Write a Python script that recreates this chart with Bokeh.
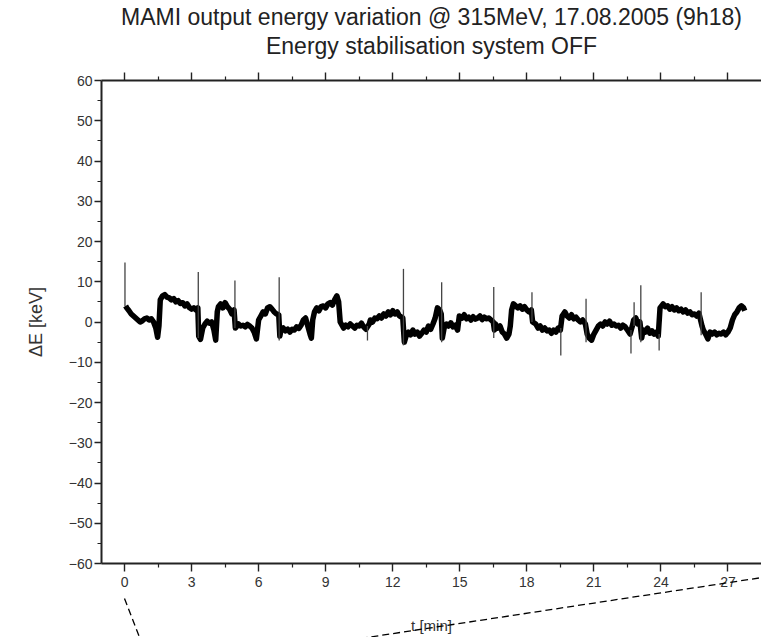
from bokeh.plotting import figure
from bokeh.models import (Range1d, LinearAxis, FixedTicker, Title,
                          ColumnDataSource, CustomJSTickFormatter)
from bokeh.embed import file_html
from bokeh.resources import INLINE

# ---- data ----
t_min = [
    0.05, 0.1, 0.2, 0.3, 0.4, 0.5, 0.6, 0.7, 0.8, 0.9, 1.0, 1.1, 1.2, 1.3, 1.4, 1.48, 1.54,
    1.6, 1.7, 1.8, 1.9, 2.0, 2.1, 2.2, 2.3, 2.4, 2.5, 2.6, 2.7, 2.8, 2.9, 3.0, 3.1, 3.2, 3.28,
    3.32, 3.4, 3.5, 3.6, 3.7, 3.8, 3.9, 4.0, 4.08,
    4.15, 4.2, 4.3, 4.4, 4.5, 4.6, 4.7, 4.8, 4.9,
    4.96, 5.1, 5.2, 5.3, 5.4, 5.5, 5.6, 5.7, 5.8, 5.9,
    6.0, 6.1, 6.2, 6.3, 6.4, 6.5, 6.6, 6.7, 6.8, 6.9,
    6.95, 7.0, 7.1, 7.2, 7.3, 7.4, 7.5, 7.6, 7.7, 7.8, 7.9, 8.0, 8.1, 8.2, 8.3, 8.36,
    8.42, 8.5, 8.6, 8.7, 8.8, 8.9, 9.0, 9.1, 9.2, 9.3, 9.4, 9.5, 9.58,
    9.65, 9.7, 9.8, 9.9, 10.0, 10.1, 10.2, 10.3, 10.4, 10.5, 10.6, 10.7, 10.8,
    10.95, 11.0, 11.1, 11.2, 11.3, 11.4, 11.5, 11.6, 11.7, 11.8, 11.9, 12.0, 12.1, 12.2, 12.3, 12.45,
    12.52, 12.6, 12.7, 12.8, 12.9, 13.0, 13.1, 13.2, 13.3, 13.4, 13.5, 13.6, 13.7, 13.8, 13.9, 14.0, 14.1, 14.17,
    14.22, 14.3, 14.4, 14.5, 14.6, 14.7, 14.8, 14.9,
    14.98, 15.1, 15.2, 15.3, 15.4, 15.5, 15.6, 15.7, 15.8, 15.9, 16.0, 16.1, 16.2, 16.3, 16.4, 16.5,
    16.55, 16.6, 16.7, 16.8, 16.9, 17.0, 17.1, 17.2, 17.26,
    17.32, 17.4, 17.5, 17.6, 17.7, 17.8, 17.9, 18.0, 18.1, 18.2,
    18.26, 18.4, 18.5, 18.6, 18.7, 18.8, 18.9, 19.0, 19.1, 19.2, 19.3, 19.4, 19.5,
    19.58, 19.7, 19.8, 19.9, 20.0, 20.1, 20.2, 20.3, 20.4, 20.5, 20.62,
    20.7, 20.8, 20.9, 21.0, 21.1, 21.2, 21.3, 21.4, 21.5, 21.6, 21.7, 21.8, 21.9, 22.0, 22.1, 22.2, 22.3, 22.4, 22.5, 22.62,
    22.72, 22.78, 22.88, 22.96, 23.06,
    23.14, 23.2, 23.3, 23.4, 23.5, 23.6, 23.7, 23.8, 23.88,
    23.96, 24.1, 24.2, 24.3, 24.4, 24.5, 24.6, 24.7, 24.8, 24.9, 25.0, 25.1, 25.2, 25.3, 25.4, 25.5, 25.6, 25.7,
    25.84, 25.9, 26.0, 26.1, 26.2, 26.3, 26.4, 26.5, 26.6, 26.7, 26.8, 26.9, 27.0, 27.1,
    27.2, 27.3, 27.4, 27.5, 27.6, 27.7, 27.75,
]
dE_keV = [
    4.0, 3.5, 2.8, 2.0, 1.5, 1.0, 0.5, 0.0, 0.3, 0.8, 1.0, 0.5, 0.8, 0.0, -1.5, -3.8, -1.0,
    5.5, 6.5, 6.8, 6.2, 6.0, 5.5, 5.8, 5.0, 5.3, 4.6, 4.8, 4.0, 4.5, 3.6, 3.2, 3.5, 3.0, 3.5,
    -3.5, -4.3, -1.5, -0.5, 0.2, -0.3, 0.0, -2.0, -4.5,
    2.5, 3.8, 4.5, 3.5, 4.8, 3.8, 3.2, 2.0, 3.0,
    -1.5, -0.5, -1.0, -0.8, -1.2, -0.6, -1.0, -1.5, -2.5, -4.2,
    0.5, 1.5, 2.5, 2.0, 3.5, 3.8, 3.2, 2.5, 2.0, 1.8,
    -3.5, -2.0, -1.5, -2.2, -1.8, -2.5, -1.8, -2.0, -1.2, -1.6, -0.8, 0.5, 1.0, -1.0, -3.0, -4.0,
    0.5, 2.5, 3.5, 2.8, 3.8, 4.0, 3.5, 4.5, 4.8, 4.2, 5.5, 6.5, 5.0,
    0.0, -0.5, -1.5, -0.8, -1.2, -0.5, -1.0, -1.5, -0.8, -1.0, -0.3, -1.2, -1.8,
    -0.5, 0.5, 0.0, 1.0, 0.8, 1.5, 1.0, 2.0, 1.5, 2.5, 1.8, 2.8, 2.0, 2.5, 1.5, 1.0,
    -5.0, -3.5, -2.5, -3.2, -2.0, -3.0, -2.5, -3.5, -2.8, -2.0, -2.5, -1.0, -1.8, -0.5, 1.0, 3.5, 3.0, 2.0,
    -4.0, -1.5, -0.5, -1.0, -0.2, -1.2, -0.8, -2.0,
    1.5, 1.0, 1.8, 0.8, 1.2, 0.5, 1.3, 0.7, 1.0, 1.5, 0.6, 1.2, 0.8, 1.0, 0.5, 0.0,
    -2.0, -0.5, -1.5, -1.0, -2.5, -3.0, -4.0, -3.0, -1.0,
    3.0, 4.5, 4.0, 3.5, 4.0, 3.2, 3.8, 3.0, 2.5, 3.0,
    0.0, -0.5, -1.5, -1.0, -2.0, -1.5, -2.2, -2.0, -2.8, -2.0, -2.5, -1.5, -2.0,
    1.5, 2.5, 1.5, 1.0, 1.8, 0.8, 1.2, 0.5, 0.0, 0.5, -0.5,
    -3.0, -4.0, -4.5, -3.0, -2.0, -1.0, -0.5, -1.0, 0.0, -0.5, 0.2, -0.8, -0.5, -1.0, -0.8, -1.5, -0.8, -1.2, -2.0, -3.0,
    -1.0, 0.5, 1.0, -0.5, 0.0,
    -4.0, -2.0, -2.5, -1.5, -2.8, -2.2, -3.0, -2.5, -3.5,
    3.5, 4.5, 3.8, 4.0, 3.2, 3.8, 3.0, 3.5, 2.8, 3.2, 2.5, 3.0, 2.2, 2.5, 1.8, 2.0, 1.5, 2.2,
    -1.0, -2.0, -3.0, -4.2, -2.5, -3.0, -2.5, -3.2, -2.8, -3.0, -2.5, -3.2, -2.5, -1.5,
    0.5, 1.8, 2.5, 3.5, 4.0, 3.5, 2.8,
]

# short transient spikes (time, low end, high end)
spike_t = [0.02, 3.30, 4.94, 6.92, 10.87, 12.48, 14.19, 16.52, 18.23, 19.52,
           20.65, 22.66, 22.80, 23.10, 23.92, 25.80]
spike_lo = [4.0, -4.0, -1.5, -4.6, -4.6, -5.8, -5.0, -4.0, 0.0, -8.3,
            -5.0, -7.8, -1.0, -5.0, -7.1, -3.3]
spike_hi = [14.8, 12.4, 10.3, 11.1, -1.0, 13.2, 9.9, 8.7, 7.4, -1.5,
            5.8, -2.0, 4.9, 9.1, -3.0, 7.4]

x_major = [0, 3, 6, 9, 12, 15, 18, 21, 24, 27]
x_minor = [1.5, 4.5, 7.5, 10.5, 13.5, 16.5, 19.5, 22.5, 25.5]
y_major = [-60, -50, -40, -30, -20, -10, 0, 10, 20, 30, 40, 50, 60]
y_minor = [-55, -45, -35, -25, -15, -5, 5, 15, 25, 35, 45, 55]

title_1 = "MAMI output energy variation @ 315MeV, 17.08.2005 (9h18)"
title_2 = "Energy stabilisation system OFF"
x_label = "t [min]"
y_label = "\u0394E [keV]"

FONT = "Liberation Sans"
AX = "#222222"

X0, X1, Y0, Y1 = -1.03, 28.5, -60, 60
W, H = 761, 637
BL, BR, BT, BB = 101, 0, 80, 74

p = figure(width=W, height=H, output_backend="svg", toolbar_location=None,
           x_range=Range1d(X0, X1), y_range=Range1d(Y0, Y1),
           min_border_left=BL, min_border_right=BR, min_border_top=BT, min_border_bottom=BB)
p.outline_line_color = None
p.grid.visible = False
p.background_fill_color = "white"
p.border_fill_color = "white"

def style_axis(ax):
    ax.axis_line_color = AX
    ax.axis_line_width = 2
    ax.major_tick_line_color = AX
    ax.minor_tick_line_color = AX
    ax.major_tick_line_width = 1.4
    ax.minor_tick_line_width = 1.2
    ax.major_tick_in = 0
    ax.minor_tick_in = 0
    ax.major_tick_out = 8
    ax.minor_tick_out = 4
    ax.major_label_text_font = FONT
    ax.major_label_text_font_size = "14px"
    ax.major_label_text_color = "#333333"
    ax.axis_label_text_font = FONT
    ax.axis_label_text_font_size = "15px"
    ax.axis_label_text_font_style = "normal"
    ax.axis_label_text_color = "#333333"

xa = p.xaxis[0]
xa.ticker = FixedTicker(ticks=x_major, minor_ticks=x_minor)
style_axis(xa)
xa.axis_label = x_label
xa.major_label_standoff = 5
xa.axis_label_standoff = 27

ya = p.yaxis[0]
ya.ticker = FixedTicker(ticks=y_major, minor_ticks=y_minor)
style_axis(ya)
ya.major_tick_out = 7
ya.axis_label = y_label
ya.axis_label_text_font_size = "18px"
ya.major_label_standoff = 2
ya.axis_label_standoff = 20

# top axis: ticks only, second title line as its label
top = LinearAxis(ticker=FixedTicker(ticks=x_major, minor_ticks=x_minor),
                 formatter=CustomJSTickFormatter(code="return ''"))
style_axis(top)
top.major_label_standoff = 0
top.axis_label = title_2
top.axis_label_text_font_size = "23px"
top.axis_label_text_color = "#222222"
top.axis_label_standoff = 14
p.add_layout(top, "above")

p.add_layout(Title(text=title_1, align="center", text_font=FONT,
                   text_font_size="23px", text_font_style="normal", text_color="#222222",
                   standoff=0), "above")

src = ColumnDataSource(dict(t=t_min, e=dE_keV))
p.line("t", "e", source=src, line_color="black", line_width=5.5, line_join="round")

ssrc = ColumnDataSource(dict(t=spike_t, lo=spike_lo, hi=spike_hi))
p.segment(x0="t", y0="lo", x1="t", y1="hi", source=ssrc, line_color="#444444", line_width=1.3)

# dashed zoom-guide lines below the chart (decoration; given in canvas pixels)
sx = (W - BL - BR) / (X1 - X0)
sy = (H - BT - BB) / (Y1 - Y0)
def px2x(px): return X0 + (px - BL) / sx
def py2y(py): return Y1 - (py - BT) / sy
for (ax0, ay0, ax1, ay1) in [(124, 598, 141, 642), (360, 638, 775, 575)]:
    p.line([px2x(ax0), px2x(ax1)], [py2y(ay0), py2y(ay1)], line_color="black",
           line_width=1.3, line_dash="7 4", level="overlay")

open("out.html", "w").write(file_html(p, INLINE))
